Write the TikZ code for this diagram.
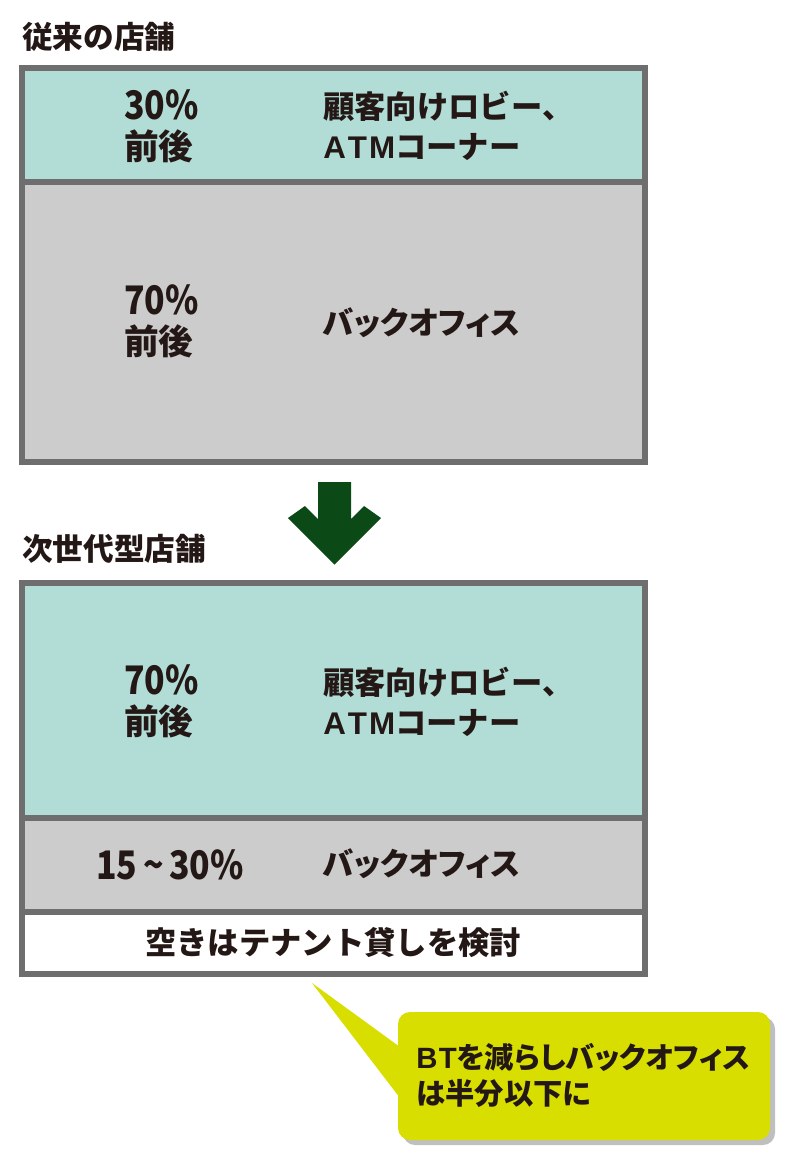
\documentclass[tikz,border=0pt]{standalone}
\usepackage{fontspec}
\setmainfont{Noto Sans CJK JP}
\newfontfamily\jpp{Noto Sans CJK JP}[RawFeature=+palt]
\newfontfamily\lat{Liberation Sans}
\definecolor{ink}{HTML}{231815}
\definecolor{teal}{HTML}{B2DDD6}
\definecolor{greyfill}{HTML}{CCCCCC}
\definecolor{frame}{HTML}{6E6E6E}
\definecolor{arrowgreen}{HTML}{0B4A16}
\definecolor{callyellow}{HTML}{D8DE00}
\newcommand\cond[1]{\scalebox{0.86}[1]{\fontsize{29.5}{30}\selectfont #1}}
\newcommand\atm{{\lat A\kern1.5pt T\kern1.5pt M}}
\begin{document}
\begin{tikzpicture}[x=0.75pt,y=-0.75pt,
  sect/.style={draw=frame,line width=3.8pt},
  title/.style={anchor=west,inner sep=0pt,text=ink,font=\fontsize{23}{28}\selectfont\bfseries},
  pct/.style={anchor=west,inner sep=0pt,text=ink,align=left,font=\fontsize{26}{30}\selectfont\bfseries},
  lbl/.style={anchor=west,inner sep=0pt,text=ink,align=left,font=\fontsize{23.5}{29.5}\selectfont\bfseries},
  note/.style={anchor=north west,inner sep=0pt,text=ink,align=left,font=\fontsize{22}{27}\selectfont\bfseries}]
\useasboundingbox (0,0) rectangle (800,1174);
% ---- old store
\node[title] (t1) at (22,37) {従来の店舗};
\draw[sect,fill=teal] (22,68) rectangle (645,182);
\draw[sect,fill=greyfill] (22,182) rectangle (645,462);
\node[pct] (p1) at (124,126) {\cond{30\%}\\前後};
\node[lbl] (l1) at (323,126) {顧客向けロビー、\\\atm コーナー};
\node[pct] (p2) at (124,321) {\cond{70\%}\\前後};
\node[lbl] (l2) at (323,323) {\jpp バックオフィス};
% ---- arrow
\fill[arrowgreen] (318,482) -- (351,482) -- (351,519) -- (364,506) -- (381,518)
  -- (334.5,564.5) -- (288,518) -- (305,506) -- (318,519) -- cycle;
% ---- next-gen store
\node[title] (t2) at (22,549) {次世代型店舗};
\draw[sect,fill=teal] (22,583) rectangle (645,818);
\draw[sect,fill=greyfill] (22,818) rectangle (645,912);
\draw[sect,fill=white] (22,912) rectangle (645,974);
\node[pct] (p3) at (124,701) {\cond{70\%}\\前後};
\node[lbl] (l3) at (323,702) {顧客向けロビー、\\\atm コーナー};
\node[pct,anchor=center] (p4) at (170,865) {\cond{15\,{\char"7E}\,30\%}};
\node[lbl] (l4) at (323,864) {\jpp バックオフィス};
\node[lbl,anchor=center] (l5) at (333,943) {空きはテナント貸しを検討};
% ---- callout
\fill[black!25,rounded corners=9] (403,1017) rectangle (775,1145);
\fill[callyellow,rounded corners=9] (398,1012) rectangle (770,1140);
\fill[callyellow] (312,983) -- (400,1047) -- (400,1098) -- cycle;
\node[note] (n1) at (416,1043) {{\lat B\kern1pt T}{\jpp を減らしバックオフィス}\\は半分以下に};
\end{tikzpicture}
\end{document}
